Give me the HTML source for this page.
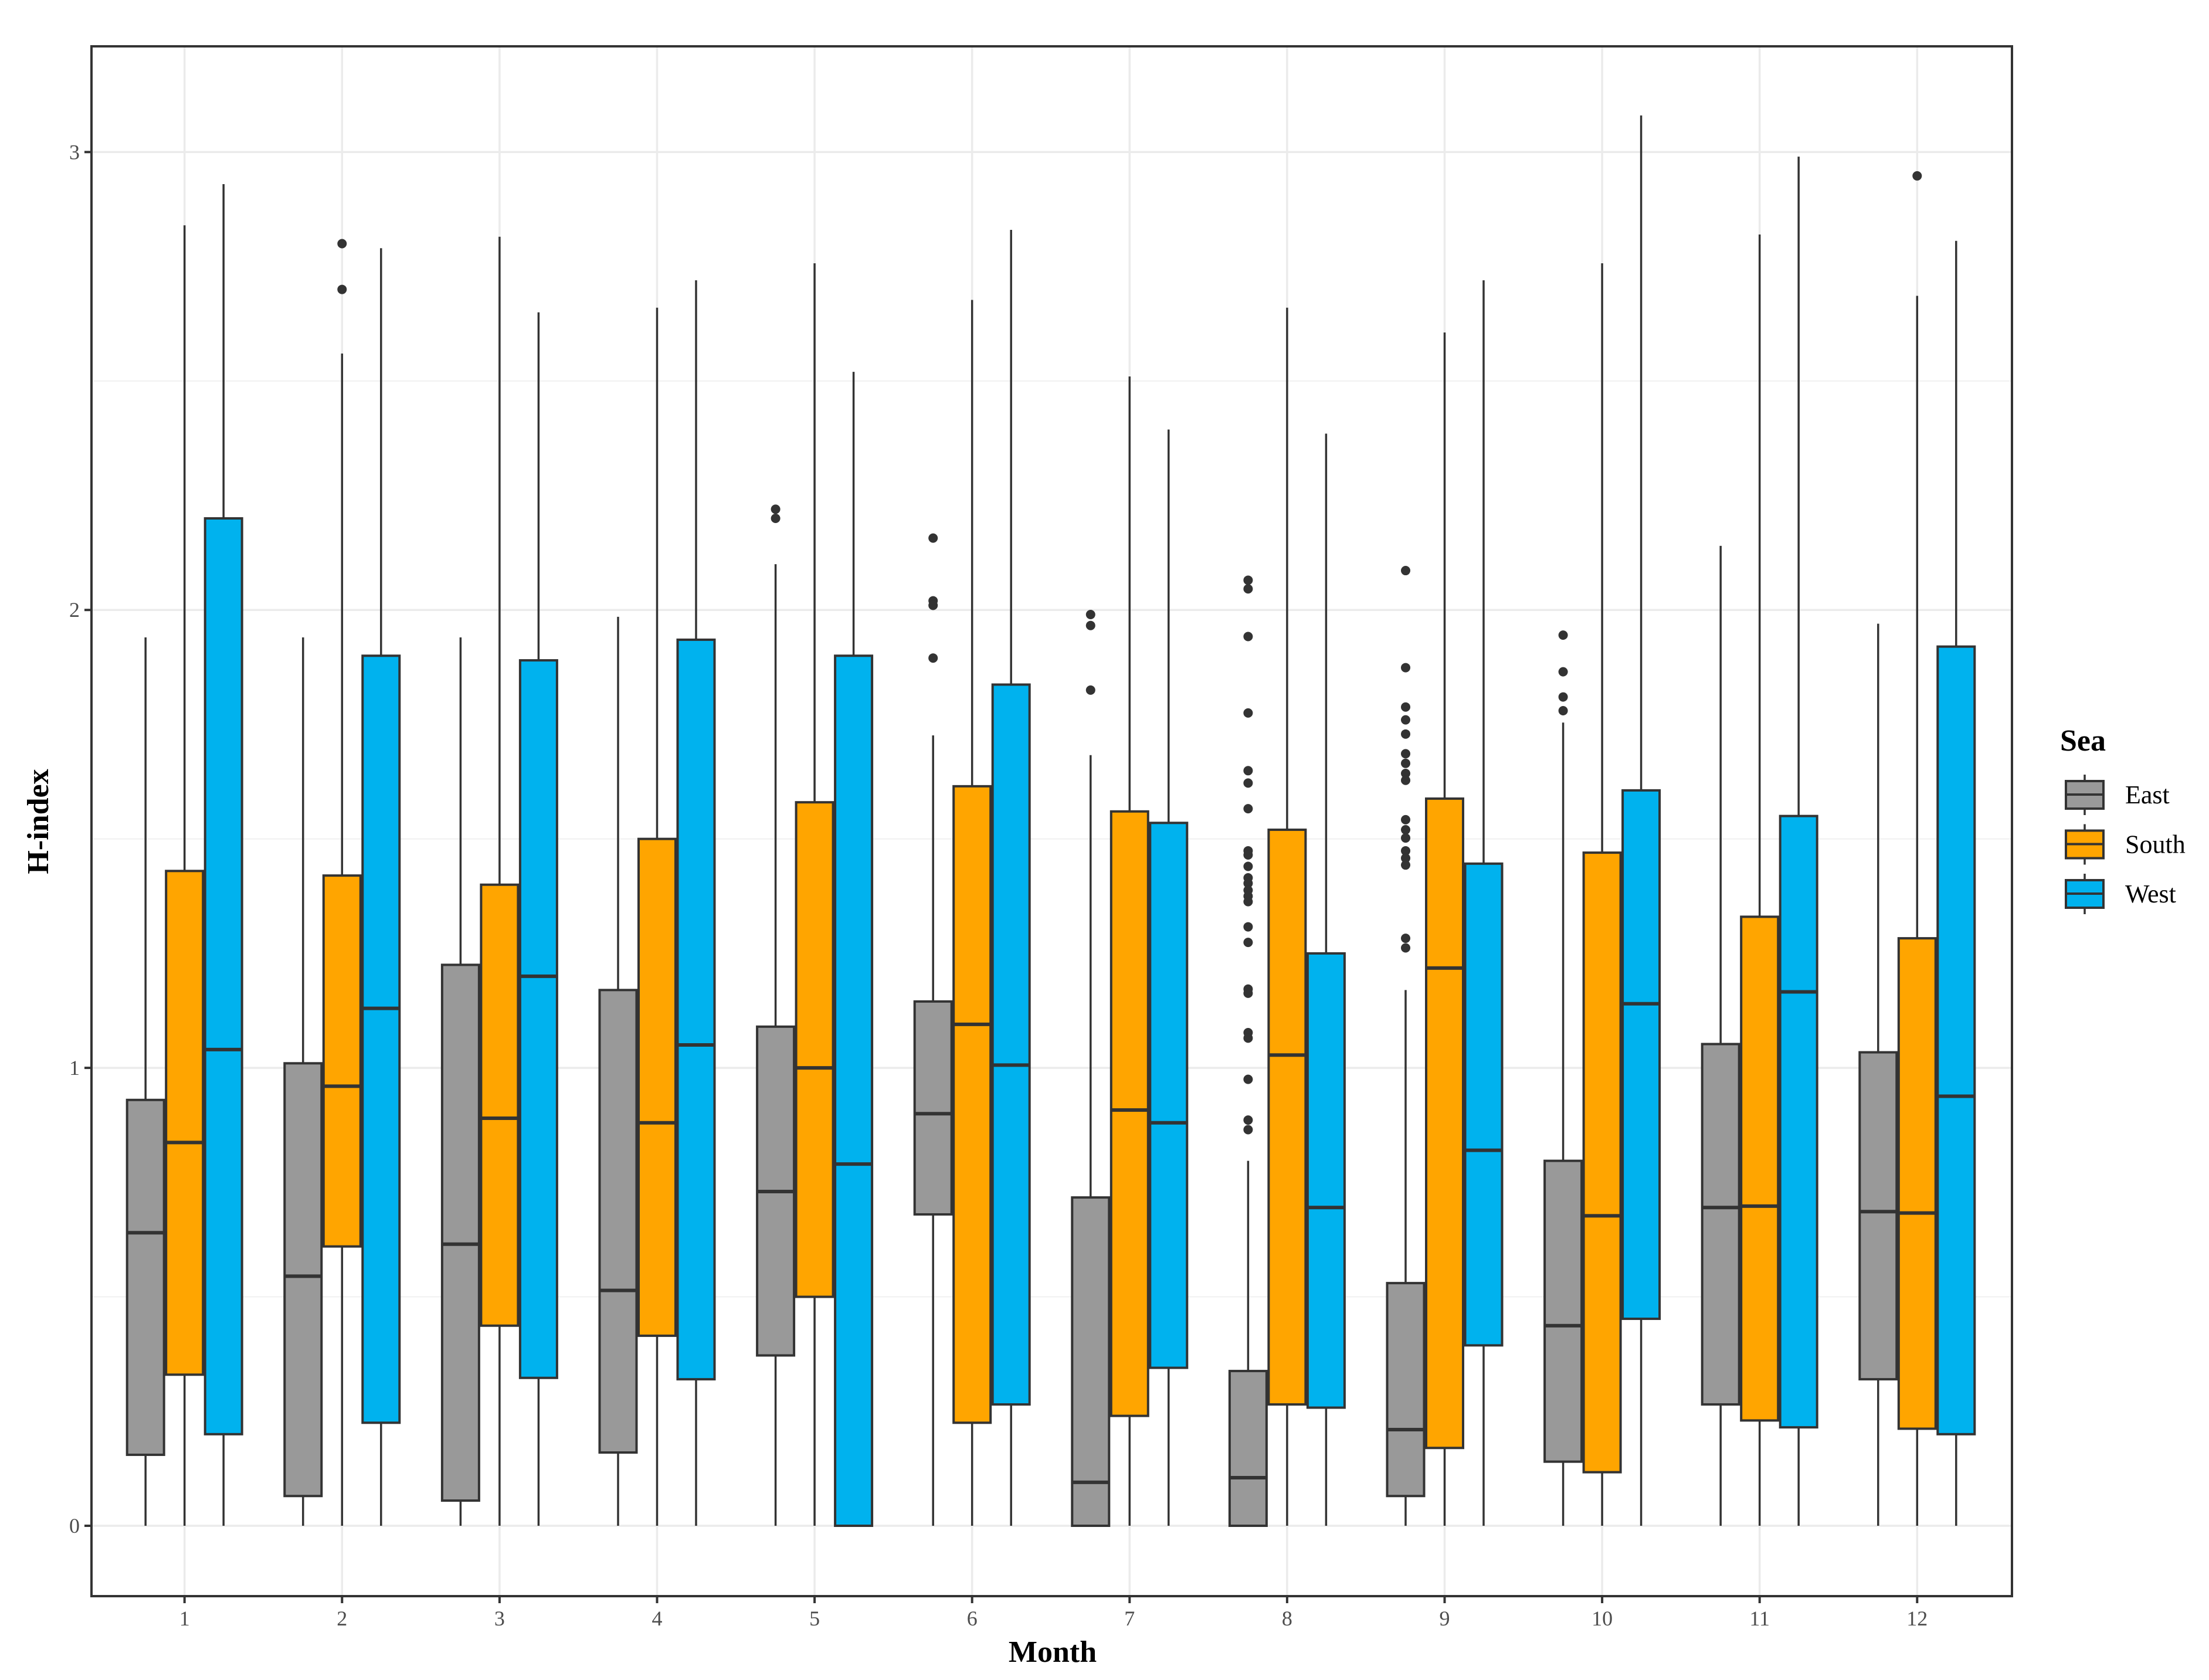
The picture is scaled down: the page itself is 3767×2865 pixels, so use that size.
<!DOCTYPE html>
<html><head><meta charset="utf-8"><style>
html,body{margin:0;padding:0;background:#fff;}
svg{display:block;font-family:"Liberation Serif",serif;}
</style></head><body>
<svg id="chart" width="3767" height="2865" viewBox="0 0 3767 2865" xmlns="http://www.w3.org/2000/svg">
<rect x="0" y="0" width="3767" height="2865" fill="#fff"/>
<g id="grid"></g>
<g id="boxes"></g>
<rect x="156" y="79" width="3275" height="2643" fill="none" stroke="#333" stroke-width="4"/>
<g id="axes"></g>
<text x="1795" y="2834" font-size="52" font-weight="bold" text-anchor="middle">Month</text>
<text transform="translate(82,1401) rotate(-90)" font-size="52" font-weight="bold" text-anchor="middle">H-index</text>
<g>
<text x="3513" y="1280" font-size="52" font-weight="bold">Sea</text>
<g id="legend"></g>
</g>
</svg>
<script>
const months = [1,2,3,4,5,6,7,8,9,10,11,12];
const seriesNames = ['East','South','West'];
const seriesColors = ['#999999','#FFA500','#00B2EE'];
const yTicks = [0,1,2,3];
// [low, q1, median, q3, high] per month
const eastStats = [
[0,0.155,0.64,0.93,1.94],[0,0.065,0.545,1.01,1.94],[0,0.055,0.615,1.225,1.94],[0,0.16,0.514,1.17,1.985],
[0,0.372,0.73,1.09,2.10],[0,0.68,0.90,1.145,1.726],[0,0,0.095,0.717,1.683],[0,0,0.105,0.338,0.797],
[0,0.065,0.21,0.53,1.17],[0,0.14,0.437,0.797,1.754],[0,0.265,0.695,1.052,2.14],[0,0.32,0.686,1.034,1.97]];
const southStats = [
[0,0.33,0.837,1.43,2.84],[0,0.61,0.96,1.42,2.56],[0,0.437,0.89,1.40,2.815],[0,0.415,0.88,1.50,2.66],
[0,0.50,1.0,1.58,2.757],[0,0.225,1.095,1.615,2.677],[0,0.24,0.908,1.56,2.51],[0,0.265,1.028,1.52,2.66],
[0,0.17,1.218,1.588,2.606],[0,0.117,0.677,1.47,2.757],[0,0.23,0.698,1.33,2.82],[0,0.212,0.683,1.283,2.686]];
const westStats = [
[0,0.20,1.04,2.20,2.93],[0,0.225,1.13,1.90,2.79],[0,0.323,1.20,1.89,2.65],[0,0.32,1.05,1.935,2.72],
[0,0,0.79,1.90,2.52],[0,0.265,1.006,1.837,2.83],[0,0.345,0.88,1.535,2.394],[0,0.258,0.695,1.25,2.385],
[0,0.394,0.82,1.446,2.72],[0,0.452,1.14,1.606,3.08],[0,0.215,1.166,1.55,2.99],[0,0.20,0.938,1.92,2.806]];
const eastOutliers = [[],[],[],[],[2.22,2.20],[2.157,2.02,2.01,1.895],[1.99,1.966,1.825],
[2.065,2.046,1.942,1.775,1.649,1.622,1.566,1.474,1.465,1.44,1.415,1.403,1.388,1.375,1.363,1.308,1.274,1.172,1.163,1.077,1.065,0.975,0.886,0.865],
[2.086,1.874,1.788,1.76,1.729,1.686,1.665,1.643,1.628,1.542,1.52,1.502,1.474,1.458,1.443,1.283,1.262],
[1.945,1.865,1.81,1.78],[],[]];
const southOutliers = [[],[2.8,2.70],[],[],[],[],[],[],[],[],[],[2.948]];
const westOutliers = [[],[],[],[],[],[],[],[],[],[],[],[]];

const NS='http://www.w3.org/2000/svg';
const y = v => 2602 - v*780.9;
const x = m => 314.7 + (m-1)*268.6;
const L=156,R=3431,T=79,B=2722;
function mk(tag, attrs, parent){const e=document.createElementNS(NS,tag);for(const k in attrs)e.setAttribute(k,attrs[k]);parent.appendChild(e);return e;}
const grid=document.getElementById('grid'), boxes=document.getElementById('boxes'), axes=document.getElementById('axes');
// minor grid
for(let v=-0.5; v<=3.5; v+=1){const yy=y(v); if(yy<T||yy>B)continue;
 const g=mk('line',{x1:L,x2:R,y1:yy,y2:yy,stroke:'#f0f0f0','stroke-width':2},grid);
 
 }
yTicks.forEach(v=>{const g=mk('line',{x1:L,x2:R,y1:y(v),y2:y(v),stroke:'#ebebeb','stroke-width':3.5},grid);
 
 
 const t=mk('line',{x1:L-12,x2:L,y1:y(v),y2:y(v),stroke:'#333','stroke-width':4},axes);
 
 
 const tx=mk('text',{x:L-20,y:y(v)+12,'font-size':36,fill:'#4d4d4d','text-anchor':'end'},axes);
 tx.textContent=v;
 
 });
months.forEach(m=>{const g=mk('line',{x1:x(m),x2:x(m),y1:T,y2:B,stroke:'#ebebeb','stroke-width':3.5},grid);
 
 
 const t=mk('line',{x1:x(m),x2:x(m),y1:B,y2:B+12,stroke:'#333','stroke-width':4},axes);
 
 
 const tx=mk('text',{x:x(m),y:B+50,'font-size':36,fill:'#4d4d4d','text-anchor':'middle'},axes);
 tx.textContent=m;
 
 });
const allStats=[eastStats,southStats,westStats], allOut=[eastOutliers,southOutliers,westOutliers];
const off=66.5, bw=63;
months.forEach((m,i)=>{
 allStats.forEach((st,s)=>{
  const cx=x(m)+(s-1)*off, [lo,q1,md,q3,hi]=st[i];
  const g=mk('g',{},boxes);
  
  
  mk('line',{x1:cx,x2:cx,y1:y(hi),y2:y(q3),stroke:'#333','stroke-width':3.5},g);
  mk('line',{x1:cx,x2:cx,y1:y(q1),y2:y(lo),stroke:'#333','stroke-width':3.5},g);
  mk('rect',{x:cx-bw/2,y:y(q3),width:bw,height:Math.max(0,y(q1)-y(q3)),fill:seriesColors[s],stroke:'#333','stroke-width':4},g);
  mk('line',{x1:cx-bw/2,x2:cx+bw/2,y1:y(md),y2:y(md),stroke:'#333','stroke-width':6},g);
  allOut[s][i].forEach(v=>{const c=mk('circle',{cx:cx,cy:y(v),r:8,fill:'#333'},g);
   
   });
 });
});
const lg=document.getElementById('legend');
seriesNames.forEach((n,s)=>{const top=1332+s*84.5;
 const g=mk('g',{},lg);
 
 
 mk('line',{x1:3555,x2:3555,y1:top-11,y2:top+58,stroke:'#333','stroke-width':3.5},g);
 mk('rect',{x:3523,y:top,width:64,height:47,fill:seriesColors[s],stroke:'#333','stroke-width':4},g);
 mk('line',{x1:3523,x2:3587,y1:top+23,y2:top+23,stroke:'#333','stroke-width':4},g);
 const t=mk('text',{x:3624,y:top+38,'font-size':44,fill:'#000'},g);t.textContent=n;});
</script>
</body></html>
